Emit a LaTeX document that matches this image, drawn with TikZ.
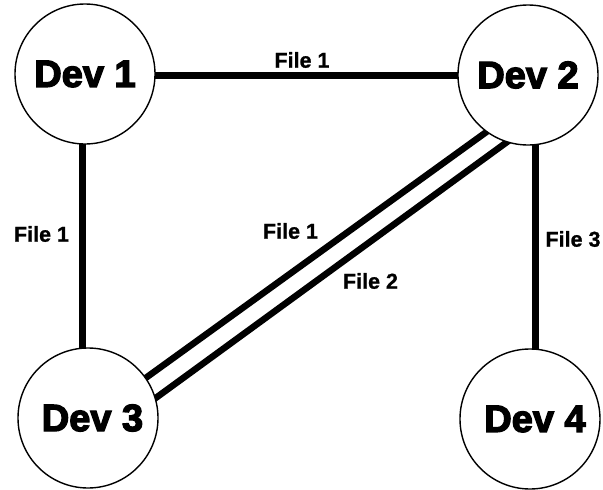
\documentclass[tikz,border=0pt]{standalone}
\usepackage{fontspec}
\setmainfont{Liberation Sans}
\newfontfamily\devfont{Liberation Sans}[BoldFeatures={FakeBold=3.5}]
\newfontfamily\filefont{Liberation Sans}[BoldFeatures={FakeBold=1}]
\usetikzlibrary{backgrounds}
\begin{document}
\begin{tikzpicture}[x=1pt,y=-1pt,
  dev/.style={circle,draw=black,fill=white,line width=1.4pt,minimum size=140pt,inner sep=0pt,
    font=\devfont\bfseries\fontsize{38}{42}\selectfont},
  link/.style={line width=6.5pt,draw=black},
  flabel/.style={font=\filefont\bfseries\fontsize{21.5}{24}\selectfont,inner sep=0pt}]
\useasboundingbox (0,0) rectangle (603,490);
\node[dev] (d1) at (85,74) {Dev 1};
\node[dev] (d2) at (528,75) {Dev 2};
\node[dev] (d3) at (88,418) {\hspace*{9pt}Dev 3};
\node[dev] (d4) at (530,419) {\hspace*{10pt}Dev 4};
\begin{scope}[on background layer]
  \fill[white] (0,0) rectangle (603,490);
  \draw[link] ([shift={(0,1.5)}]d1.center) -- ([shift={(0,0.5)}]d2.center);
  \draw[link] ([shift={(-2.5,0)}]d1.center) -- ([shift={(-5.5,0)}]d3.center);
  \draw[link] ([shift={(7.5,0)}]d2.center) -- ([shift={(5.5,0)}]d4.center);
  \draw[link] ([shift={(26.6,-17.6)}]d3.center) -- ([shift={(-10.6,34.6)}]d2.center);
  \draw[link] ([shift={(36.7,2.6)}]d3.center) -- ([shift={(7.3,46.4)}]d2.center);
\end{scope}
\node[flabel] (l12) at (302,60) {File 1};
\node[flabel] (l13) at (41.5,234) {File 1};
\node[flabel] (l23a) at (290.5,231) {File 1};
\node[flabel] (l23b) at (370.5,281) {File 2};
\node[flabel] (l24) at (573,239) {File 3};
\end{tikzpicture}
\end{document}
